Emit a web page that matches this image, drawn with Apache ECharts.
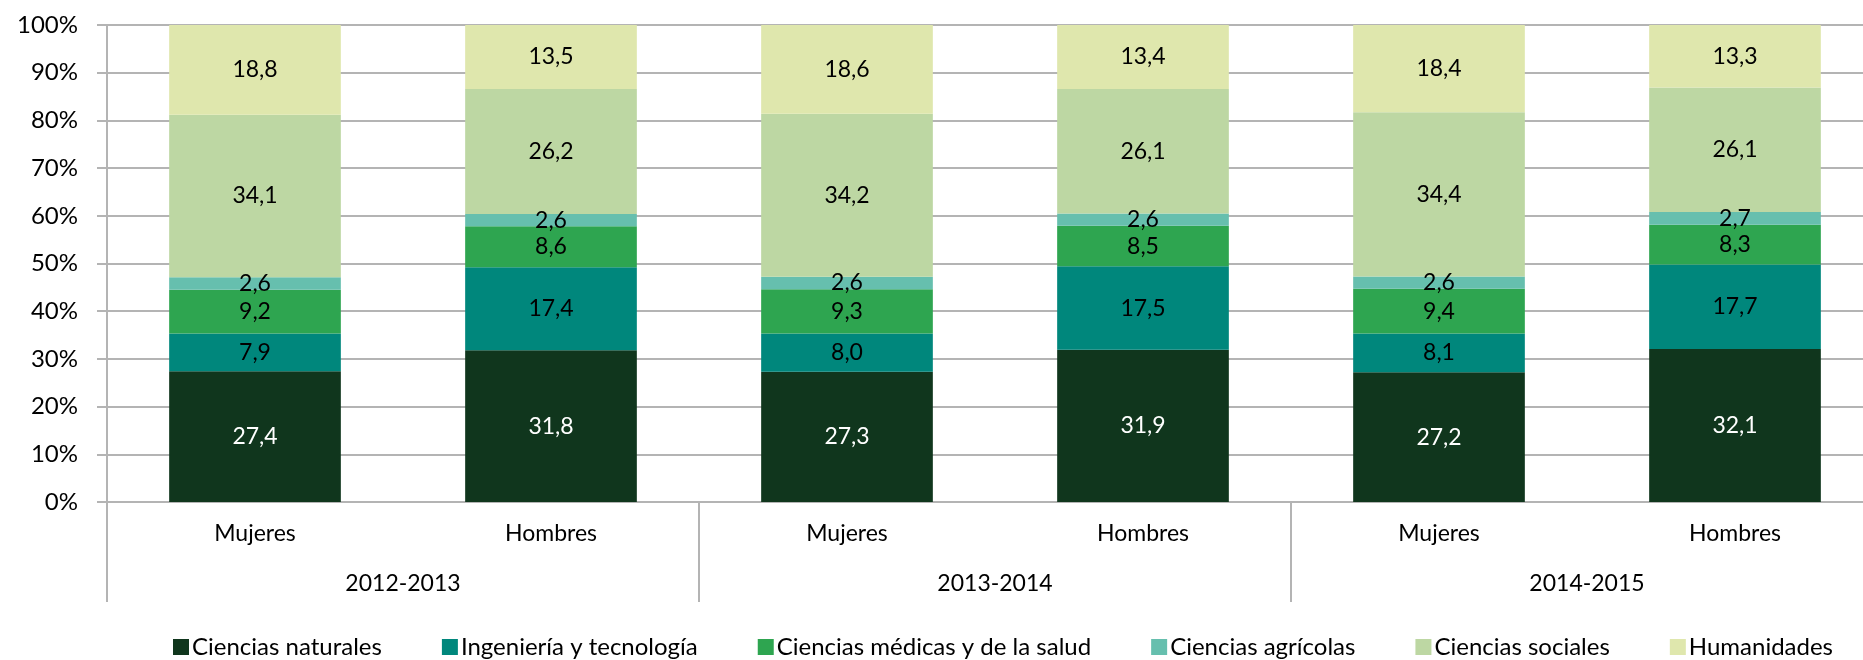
<!DOCTYPE html>
<html>
<head>
<meta charset="utf-8">
<script src="https://cdn.jsdelivr.net/npm/echarts@6/dist/echarts.min.js"></script>
<style>
  html, body { margin: 0; padding: 0; background: #fff; overflow: hidden; }
  /* el grafico original queda cortado por la derecha: el lienzo es algo mas ancho que la ventana */
  #chart { width: 1883px; height: 660px; }
</style>
</head>
<body>
<div id="chart"></div>
<script>
  // categorias (sexo) y grupos (curso)
  var sexos = ["Mujeres", "Hombres", "Mujeres", "Hombres", "Mujeres", "Hombres"];
  var cursos = ["2012-2013", "2013-2014", "2014-2015"];

  // porcentajes por rama de conocimiento
  var cienciasNaturales = [27.4, 31.8, 27.3, 31.9, 27.2, 32.1];
  var ingenieria = [7.9, 17.4, 8.0, 17.5, 8.1, 17.7];
  var cienciasMedicas = [9.2, 8.6, 9.3, 8.5, 9.4, 8.3];
  var cienciasAgricolas = [2.6, 2.6, 2.6, 2.6, 2.6, 2.7];
  var cienciasSociales = [34.1, 26.2, 34.2, 26.1, 34.4, 26.1];
  var humanidades = [18.8, 13.5, 18.6, 13.4, 18.4, 13.3];

  var yTicks = [0, 10, 20, 30, 40, 50, 60, 70, 80, 90, 100];

  var fuente = "Lato";

  function serie(nombre, datos, color, colorTexto) {
    return {
      name: nombre,
      type: 'bar',
      stack: 'total',
      data: datos,
      barCategoryGap: '42%',
      itemStyle: { color: color },
      label: {
        show: true,
        position: 'inside',
        color: colorTexto,
        fontFamily: fuente,
        fontSize: 23,
        formatter: function (p) { return p.value.toFixed(1).replace('.', ','); }
      }
    };
  }

  var chart = echarts.init(document.getElementById('chart'));
  chart.setOption({
    backgroundColor: '#ffffff',
    animation: false,
    grid: { left: 107, top: 25, right: 0, bottom: 158 },
    legend: {
      bottom: -4,
      left: 168,
      itemWidth: 16,
      itemHeight: 16,
      itemGap: 60,
      icon: 'rect',
      textStyle: { fontFamily: fuente, fontSize: 24, color: '#000', padding: [0, 0, 0, -2] },
      data: ['Ciencias naturales', 'Ingeniería y tecnología', 'Ciencias médicas y de la salud',
             'Ciencias agrícolas', 'Ciencias sociales', 'Humanidades']
    },
    xAxis: [
      {
        type: 'category',
        data: sexos,
        position: 'bottom',
        axisLine: { show: true, lineStyle: { color: '#b4b4b4', width: 2 } },
        axisTick: { show: false },
        axisLabel: { margin: 20, fontFamily: fuente, fontSize: 23, color: '#000' }
      },
      {
        type: 'category',
        data: cursos,
        position: 'bottom',
        boundaryGap: true,
        axisLine: { show: false },
        axisTick: { show: true, length: 100, interval: 0, lineStyle: { color: '#b4b4b4', width: 2 } },
        axisLabel: { margin: 70, interval: 0, fontFamily: fuente, fontSize: 23, color: '#000' }
      }
    ],
    yAxis: {
      type: 'value',
      min: yTicks[0],
      max: yTicks[yTicks.length - 1],
      interval: 10,
      axisLine: { show: true, lineStyle: { color: '#b4b4b4', width: 2 } },
      axisTick: { show: true, length: 10, lineStyle: { color: '#b4b4b4', width: 2 } },
      splitLine: { show: true, lineStyle: { color: '#b4b4b4', width: 2 } },
      axisLabel: {
        margin: 29,
        fontFamily: fuente,
        fontSize: 24,
        color: '#000',
        formatter: '{value}%'
      }
    },
    series: [
      serie('Ciencias naturales', cienciasNaturales, '#10361d', '#ffffff'),
      serie('Ingeniería y tecnología', ingenieria, '#00877c', '#000000'),
      serie('Ciencias médicas y de la salud', cienciasMedicas, '#2ea550', '#000000'),
      serie('Ciencias agrícolas', cienciasAgricolas, '#66bfae', '#000000'),
      serie('Ciencias sociales', cienciasSociales, '#bdd7a3', '#000000'),
      serie('Humanidades', humanidades, '#dfe7ad', '#000000')
    ]
  });
</script>
</body>
</html>
